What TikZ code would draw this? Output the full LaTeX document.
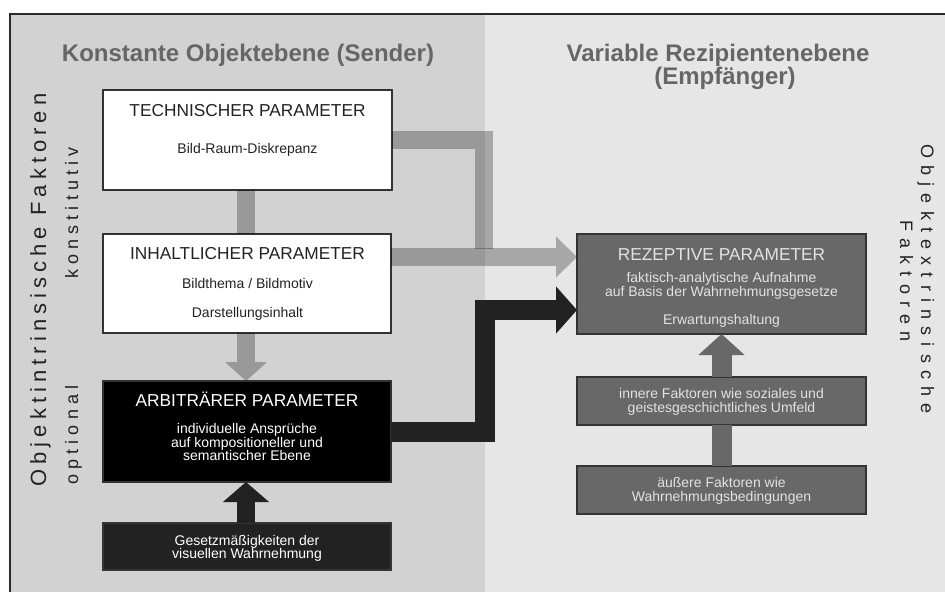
\documentclass[tikz,border=0pt]{standalone}
\usepackage{fontspec}
\setmainfont{Liberation Sans}
\newfontfamily\spacedA[LetterSpace=23]{Liberation Sans}
\newfontfamily\spacedB[LetterSpace=28]{Liberation Sans}
\newfontfamily\spacedC[LetterSpace=40]{Liberation Sans}
\usetikzlibrary{arrows.meta,calc}
\definecolor{bgL}{HTML}{D2D2D2}
\definecolor{bgR}{HTML}{E6E6E6}
\definecolor{frameC}{HTML}{2A2A2A}
\definecolor{titleC}{HTML}{666666}
\definecolor{darkC}{HTML}{222222}
\definecolor{boxG}{HTML}{686868}
\definecolor{edgeC}{HTML}{333333}
\definecolor{lightT}{HTML}{E2E2E2}
\begin{document}
\begin{tikzpicture}[x=1pt,y=-1pt,
  box/.style={draw=edgeC,line width=1.2pt,inner sep=0pt,outer sep=0pt},
  wbox/.style={box,fill=white},
  kbox/.style={box,fill=black},
  dbox/.style={box,fill=darkC,draw=darkC!80!gray},
  gbox/.style={box,fill=boxG},
  bigtitle/.style={font=\fontsize{24}{26}\selectfont\bfseries,text=titleC,anchor=base,inner sep=0pt},
  btitle/.style={font=\fontsize{17.3}{19}\selectfont,anchor=base,inner sep=0pt},
  btext/.style={font=\fontsize{14}{14}\selectfont,anchor=base,inner sep=0pt},
  gband/.style={draw=black,opacity=0.27,line width=18pt,line join=miter},
  gfill/.style={fill=black,opacity=0.27},
  kband/.style={draw=darkC,line width=20pt,line join=miter},
  ktip/.style={-{Triangle[width=46pt,length=21pt]}},
  vtext/.style={anchor=base,inner sep=0pt,text=darkC}
]
\useasboundingbox (0,0) rectangle (945,592);
% backgrounds
\fill[bgL] (10,14) rectangle (485,592);
\fill[bgR] (485,14) rectangle (945,592);
\draw[frameC,line width=2pt] (10,14) -- (945,14);
\draw[frameC,line width=2.5pt] (10,13) -- (10,592);

% titles
\node[bigtitle] (hL) at (248,61) {Konstante Objektebene (Sender)};
\node[bigtitle] (hR1) at (718,61) {Variable Rezipientenebene};
\node[bigtitle] (hR2) at (725,84) {(Empfänger)};

% side texts
\node[vtext,rotate=90,font=\fontsize{22}{24}\spacedA] (sL) at (46,290) {Objektintrinsische Faktoren};
\node[vtext,rotate=90,font=\fontsize{18}{20}\spacedB] (sK) at (78,213) {konstitutiv};
\node[vtext,rotate=90,font=\fontsize{18}{20}\spacedB] (sO) at (78,435) {optional};
\node[vtext,rotate=-90,font=\fontsize{18}{20}\spacedC] (sR1) at (921,279) {Objektextrinsische};
\node[vtext,rotate=-90,font=\fontsize{18}{20}\spacedC] (sR2) at (900,281) {Faktoren};

% boxes
\node[wbox,minimum width=289pt,minimum height=100pt] (tech) at (247.5,140) {};
\node[wbox,minimum width=288pt,minimum height=99pt] (inh) at (247,283.5) {};
\node[kbox,minimum width=288pt,minimum height=101pt] (arb) at (247,431.5) {};
\node[dbox,minimum width=288pt,minimum height=47pt] (ges) at (247,546.5) {};
\node[gbox,minimum width=289pt,minimum height=100pt] (rez) at (721.5,284) {};
\node[gbox,minimum width=289pt,minimum height=48pt] (inn) at (721.5,401) {};
\node[gbox,minimum width=289pt,minimum height=48pt] (aus) at (721.5,490) {};

% box texts
\node[btitle,text=darkC] (t1) at (247.5,116) {TECHNISCHER PARAMETER};
\node[btext,text=darkC] (t2) at (247.5,153) {Bild-Raum-Diskrepanz};
\node[btitle,text=darkC] (t3) at (247.5,259) {INHALTLICHER PARAMETER};
\node[btext,text=darkC] (t4) at (247.5,288) {Bildthema / Bildmotiv};
\node[btext,text=darkC] (t5) at (247.5,317) {Darstellungsinhalt};
\node[btitle,text=white] (t6) at (247,406) {ARBITRÄRER PARAMETER};
\node[btext,text=white] (t7) at (247,433) {individuelle Ansprüche};
\node[btext,text=white] (t8) at (247,447) {auf kompositioneller und};
\node[btext,text=white] (t9) at (247,460.5) {semantischer Ebene};
\node[btext,text=white] (t10) at (247,545) {Gesetzmäßigkeiten der};
\node[btext,text=white] (t11) at (247,558.5) {visuellen Wahrnehmung};
\node[btitle,text=lightT] (t12) at (721.5,260) {REZEPTIVE PARAMETER};
\node[btext,text=lightT] (t13) at (721.5,282) {faktisch-analytische Aufnahme};
\node[btext,text=lightT] (t14) at (721.5,296) {auf Basis der Wahrnehmungsgesetze};
\node[btext,text=lightT] (t15) at (721.5,324) {Erwartungshaltung};
\node[btext,text=lightT] (t16) at (721.5,398) {innere Faktoren wie soziales und};
\node[btext,text=lightT] (t17) at (721.5,412) {geistesgeschichtliches Umfeld};
\node[btext,text=lightT] (t18) at (721.5,487) {äußere Faktoren wie};
\node[btext,text=lightT] (t19) at (721.5,501.5) {Wahrnehmungsbedingungen};

% connectors left column
\draw[gband] ($(tech.south)+(-1.5,0)$) -- ($(inh.north)+(-1,0)$);
\coordinate (aA) at ($(arb.north)+(-1,-19)$);
\draw[gband] ($(inh.south)+(-1,0)$) -- (aA);
\fill[gfill] ($(aA)+(-21,0)$) -- ($(aA)+(21,0)$) -- ($(arb.north)+(-1,0)$) -- cycle;
\draw[kband,line width=18pt,-{Triangle[width=45pt,length=20pt]}] ($(ges.north)+(-1,0)$) -- ($(arb.south)+(-1,0)$);

% gray connectors to receptive parameters
\coordinate (jG) at (484,248.5);
\draw[gband] (tech.east) -| (jG);
\coordinate (aB) at ($(rez.north west)+(-21,23)$);
\draw[gband] ($(inh.north east)+(0,23)$) -- (aB);
\fill[gfill] ($(aB)+(0,-20.5)$) -- ($(aB)+(0,20.5)$) -- ($(rez.north west)+(0,23)$) -- cycle;

% black connector
\coordinate (jK) at (485,310);
\draw[kband,ktip] (arb.east) -| (jK) -- ($(rez.west)+(0,26)$);

% right column connectors
\draw[draw=boxG,line width=20pt] (aus.north) -- (inn.south);
\draw[draw=boxG,line width=20pt,-{Triangle[width=45pt,length=21pt]}] (inn.north) -- (rez.south);
\end{tikzpicture}
\end{document}
